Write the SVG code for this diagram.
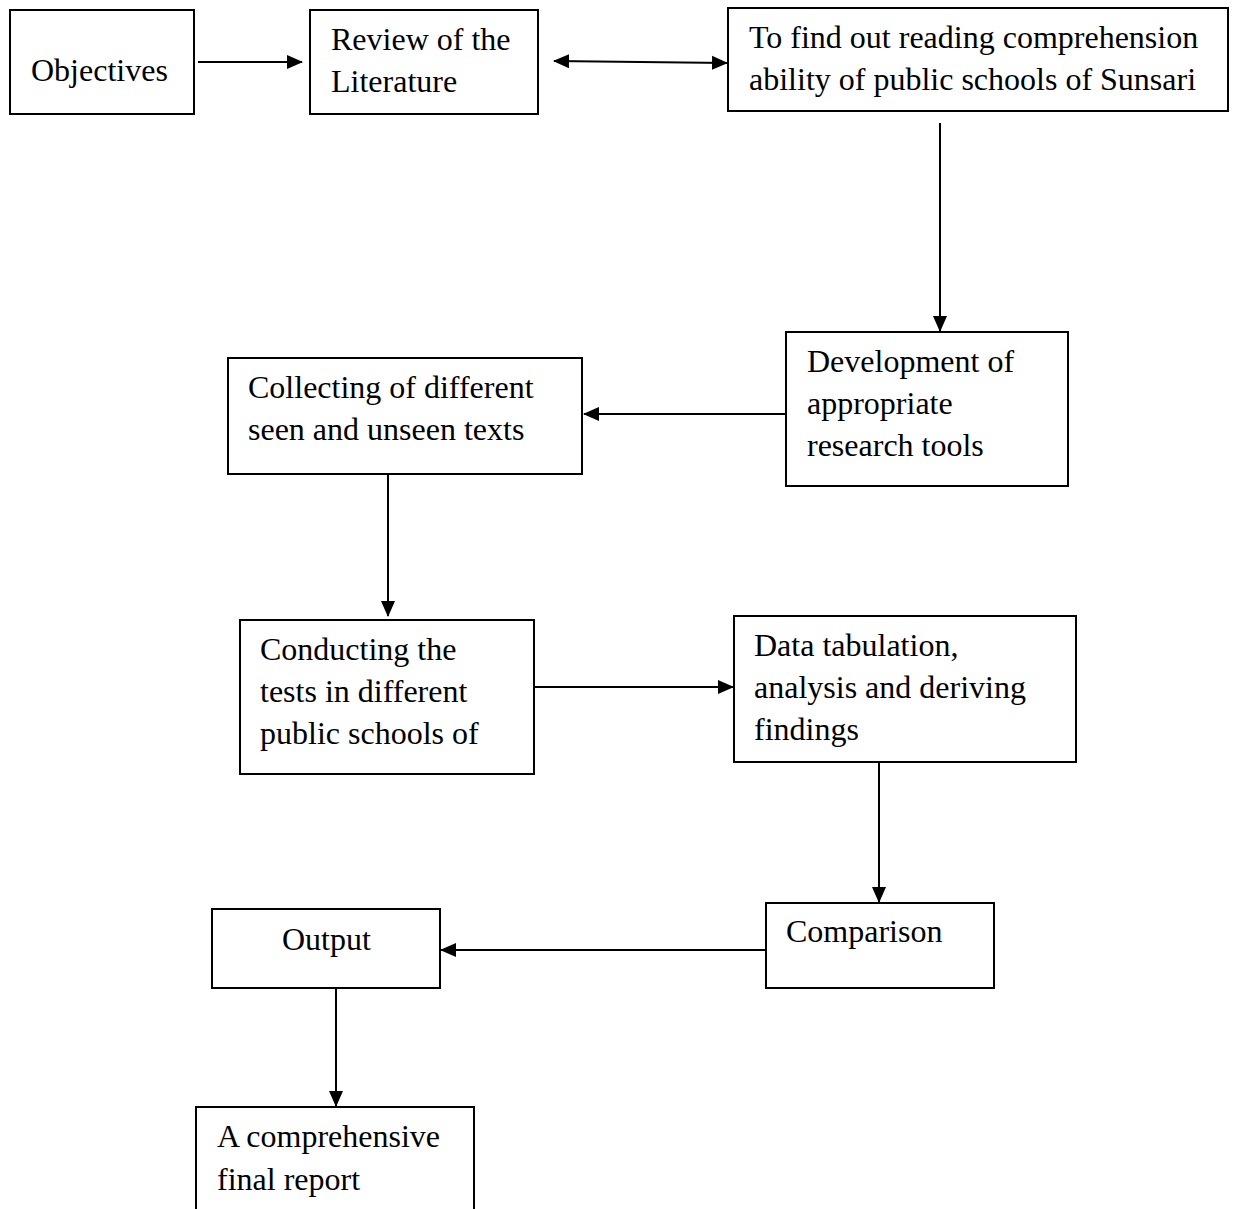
<svg xmlns="http://www.w3.org/2000/svg" width="1235" height="1209" viewBox="0 0 1235 1209">
<style>
.box{fill:#fff;stroke:#000;stroke-width:2}
.t{font-family:"Liberation Serif","Times New Roman",serif;font-size:32px;fill:#000}
.c{stroke:#000;stroke-width:2;fill:none}
</style>
<defs>
<marker id="ah" markerUnits="userSpaceOnUse" markerWidth="16" markerHeight="16" refX="15" refY="8" orient="auto-start-reverse">
<path d="M0,1 L16,8 L0,15 Z" fill="#000"/>
</marker>
</defs>
<rect width="1235" height="1209" fill="#fff"/>
<g id="connectors">
<line class="c" x1="198" y1="62" x2="302" y2="62" marker-end="url(#ah)"/>
<line class="c" x1="554" y1="61" x2="727" y2="63" marker-start="url(#ah)" marker-end="url(#ah)"/>
<line class="c" x1="940" y1="123" x2="940" y2="331" marker-end="url(#ah)"/>
<line class="c" x1="786" y1="414" x2="584" y2="414" marker-end="url(#ah)"/>
<line class="c" x1="388" y1="474" x2="388" y2="616" marker-end="url(#ah)"/>
<line class="c" x1="534" y1="687" x2="733" y2="687" marker-end="url(#ah)"/>
<line class="c" x1="879" y1="762" x2="879" y2="902" marker-end="url(#ah)"/>
<line class="c" x1="766" y1="950" x2="441" y2="950" marker-end="url(#ah)"/>
<line class="c" x1="336" y1="988" x2="336" y2="1106" marker-end="url(#ah)"/>
</g>
<g id="objectives">
<rect class="box" x="10" y="10" width="184" height="104"/>
<text class="t" x="31" y="81">Objectives</text>
</g>
<g id="review">
<rect class="box" x="310" y="10" width="228" height="104"/>
<text class="t" x="331" y="50">Review of the</text>
<text class="t" x="331" y="92">Literature</text>
</g>
<g id="findout">
<rect class="box" x="728" y="8" width="500" height="103"/>
<text class="t" x="749" y="48">To find out reading comprehension</text>
<text class="t" x="749" y="90">ability of public schools of Sunsari</text>
</g>
<g id="development">
<rect class="box" x="786" y="332" width="282" height="154"/>
<text class="t" x="807" y="372">Development of</text>
<text class="t" x="807" y="414">appropriate</text>
<text class="t" x="807" y="456">research tools</text>
</g>
<g id="collecting">
<rect class="box" x="228" y="358" width="354" height="116"/>
<text class="t" x="248" y="398">Collecting of different</text>
<text class="t" x="248" y="440">seen and unseen texts</text>
</g>
<g id="conducting">
<rect class="box" x="240" y="620" width="294" height="154"/>
<text class="t" x="260" y="660">Conducting the</text>
<text class="t" x="260" y="702">tests in different</text>
<text class="t" x="260" y="744">public schools of</text>
</g>
<g id="datatab">
<rect class="box" x="734" y="616" width="342" height="146"/>
<text class="t" x="754" y="656">Data tabulation,</text>
<text class="t" x="754" y="698">analysis and deriving</text>
<text class="t" x="754" y="740">findings</text>
</g>
<g id="comparison">
<rect class="box" x="766" y="903" width="228" height="85"/>
<text class="t" x="786" y="942">Comparison</text>
</g>
<g id="output">
<rect class="box" x="212" y="909" width="228" height="79"/>
<text class="t" x="282" y="950">Output</text>
</g>
<g id="finalreport">
<path class="box" d="M196,1212 V1107 H474 V1212"/>
<text class="t" x="217" y="1147">A comprehensive</text>
<text class="t" x="217" y="1190">final report</text>
</g>
</svg>
